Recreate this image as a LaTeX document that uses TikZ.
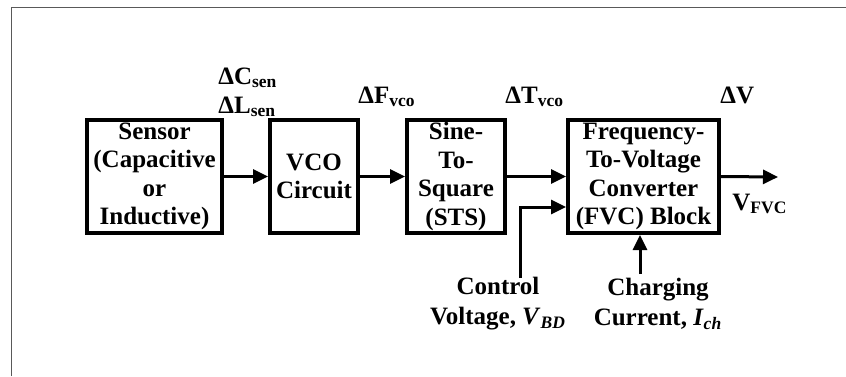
\documentclass[tikz,border=0pt]{standalone}
\usepackage{fontspec}
\setmainfont{Liberation Serif}
\usetikzlibrary{arrows.meta}
\tikzset{
  blk/.style={draw, line width=2pt, inner sep=0pt, align=center,
    minimum height=56.5pt, font=\bfseries\fontsize{12.5}{14.2}\selectfont},
  sig/.style={line width=1.5pt, -{Triangle[length=7.5pt,width=7pt]}},
  lbl/.style={inner sep=0pt, font=\bfseries\fontsize{12.5}{15}\selectfont},
  frame/.style={draw=black!65, line width=0.6pt}
}
\newcommand{\sbs}[1]{\textsubscript{#1}}
\begin{document}
\begin{tikzpicture}[x=0.5pt,y=-0.5pt]
\useasboundingbox (0,0) rectangle (846,376);
\draw[frame] (11.5,376) -- (11.5,7.5) -- (846,7.5);

\node[blk, minimum width=67.5pt] (sen) at (154.5,176.5) {Sensor\\(Capacitive\\or\\Inductive)};
\node[blk, minimum width=44pt] (vco) at (314,176.5) {VCO\\Circuit};
\node[blk, minimum width=49pt] (sts) at (456,176.5) {Sine-\\To-\\Square\\(STS)};
\node[blk, minimum width=75.5pt] (fvc) at (643.5,176.5) {Frequency-\\To-Voltage\\Converter\\(FVC) Block};

\coordinate (out) at (778,177);
\coordinate (cv) at (520,278);
\coordinate (ci) at (640,274);

\draw[sig] (sen.east) -- (vco.west);
\draw[sig] (vco.east) -- (sts.west);
\draw[sig] (sts.east) -- (fvc.west);
\draw[sig] (cv) -- (520,207) -- (fvc.west |- 0,207);
\draw[sig] (ci) -- (ci |- fvc.south);
\draw[sig] (fvc.east) -- (out);

\node[lbl, anchor=base west] (dc) at (218,84) {ΔC\sbs{sen}};
\node[lbl, anchor=base west] (dl) at (218,113) {ΔL\sbs{sen}};
\node[lbl, anchor=base west] (df) at (358,103) {ΔF\sbs{vco}};
\node[lbl, anchor=base west] (dt) at (505,103) {ΔT\sbs{vco}};
\node[lbl, anchor=base west] (dv) at (720,103) {ΔV};
\node[lbl, anchor=base west] (vf) at (732,210) {V\sbs{FVC}};
\node[lbl, align=center] (ctl) at (498,304) {Control\\Voltage, \textit{V}\sbs{\textit{BD}}};
\node[lbl, align=center] (chg) at (658,304) {Charging\\Current, \textit{I}\sbs{\textit{ch}}};
\end{tikzpicture}
\end{document}
